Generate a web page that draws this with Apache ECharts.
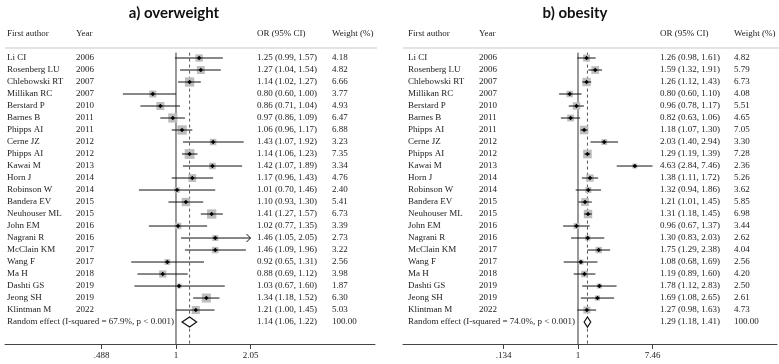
<!DOCTYPE html>
<html><head><meta charset="utf-8">
<script src="https://cdn.jsdelivr.net/npm/echarts@6/dist/echarts.min.js"></script>
<style>html,body{margin:0;padding:0;background:#fff}#c{width:779px;height:364px}</style>
</head><body><div id="c"></div>
<script>
const authors = ['Li CI','Rosenberg LU','Chlebowski RT','Millikan RC','Berstard P','Barnes B','Phipps AI','Cerne JZ','Phipps AI','Kawai M','Horn J','Robinson W','Bandera EV','Neuhouser ML','John EM','Nagrani R','McClain KM','Wang F','Ma H','Dashti GS','Jeong SH','Klintman M'];
const years = [2006,2006,2007,2007,2010,2011,2011,2012,2012,2013,2014,2014,2015,2015,2016,2016,2017,2017,2018,2019,2019,2022];

const owOR = [1.25,1.27,1.14,0.80,0.86,0.97,1.06,1.43,1.14,1.42,1.17,1.01,1.10,1.41,1.02,1.46,1.46,0.92,0.88,1.03,1.34,1.21];
const owLo = [0.99,1.04,1.02,0.60,0.71,0.86,0.96,1.07,1.06,1.07,0.96,0.70,0.93,1.27,0.77,1.05,1.09,0.65,0.69,0.67,1.18,1.00];
const owHi = [1.57,1.54,1.27,1.00,1.04,1.09,1.17,1.92,1.23,1.89,1.43,1.46,1.30,1.57,1.35,2.05,1.96,1.31,1.12,1.60,1.52,1.45];
const owW  = [4.18,4.82,6.66,3.77,4.93,6.47,6.88,3.23,7.35,3.34,4.76,2.40,5.41,6.73,3.39,2.73,3.22,2.56,3.98,1.87,6.30,5.03];
const owPooled = [1.14,1.06,1.22];
const owI2 = '67.9%';
const owTicks = [0.488,1,2.05];
const owTickLabels = ['.488','1','2.05'];

const obOR = [1.26,1.59,1.26,0.80,0.96,0.82,1.18,2.03,1.29,4.63,1.38,1.32,1.21,1.31,0.96,1.30,1.75,1.08,1.19,1.78,1.69,1.27];
const obLo = [0.98,1.32,1.12,0.60,0.78,0.63,1.07,1.40,1.19,2.84,1.11,0.94,1.01,1.18,0.67,0.83,1.29,0.68,0.89,1.12,1.08,0.98];
const obHi = [1.61,1.91,1.43,1.10,1.17,1.06,1.30,2.94,1.39,7.46,1.72,1.86,1.45,1.45,1.37,2.03,2.38,1.69,1.60,2.83,2.65,1.63];
const obW  = [4.82,5.79,6.73,4.08,5.51,4.65,7.05,3.30,7.28,2.36,5.26,3.62,5.85,6.98,3.44,2.62,4.04,2.56,4.20,2.50,2.61,4.73];
const obPooled = [1.29,1.18,1.41];
const obI2 = '74.0%';
const obTicks = [0.134,1,7.46];
const obTickLabels = ['.134','1','7.46'];

const headers = ['First author','Year','OR (95% CI)','Weight (%)'];
const titles = ['a) overweight','b) obesity'];

const SERIF = '"Liberation Serif","DejaVu Serif",serif';
const YMAX = 23.83;
const ln = Math.log;
const f2 = v => v.toFixed(2);

const panels = [
  {or: owOR, lo: owLo, hi: owHi, w: owW, pooled: owPooled, i2: owI2, ticks: owTicks, tickLabels: owTickLabels,
   grid: {left: 5, width: 370}, xmin: -1.647, xmax: 1.917, cols: [7, 76, 257, 332], box: 3.6, arrow: true, titleX: 169},
  {or: obOR, lo: obLo, hi: obHi, w: obW, pooled: obPooled, i2: obI2, ticks: obTicks, tickLabels: obTickLabels,
   grid: {left: 403, width: 374}, xmin: -4.721, xmax: 5.368, cols: [408, 479, 660, 734], box: 3.2, arrow: false, titleX: 570}
];

const option = {animation: false, title: [], grid: [], xAxis: [], yAxis: [], series: []};

panels.forEach((p, k) => {
  option.title.push({text: titles[k], left: p.titleX, top: 1, textAlign: 'center',
    textStyle: {fontFamily: 'Lato,"Open Sans",sans-serif', fontWeight: 700, fontSize: 15, color: '#111'}});
  option.grid.push({left: p.grid.left, width: p.grid.width, top: 46, height: 298});
  const tv = p.ticks.map(ln);
  option.xAxis.push({type: 'value', gridIndex: k, min: p.xmin, max: p.xmax,
    axisLine: {show: true, onZero: false, lineStyle: {color: '#444', width: 1}},
    axisTick: {show: true, customValues: tv, length: 5, lineStyle: {color: '#444'}},
    axisLabel: {show: true, customValues: tv, margin: 7, fontFamily: SERIF, fontSize: 9, color: '#222',
      formatter: v => { const i = tv.findIndex(t => Math.abs(t - v) < 1e-6); return i >= 0 ? p.tickLabels[i] : ''; }},
    splitLine: {show: false}});
  option.yAxis.push({type: 'value', gridIndex: k, inverse: true, min: -1, max: YMAX, show: false});

  // reference line at OR = 1
  option.series.push({type: 'line', xAxisIndex: k, yAxisIndex: k, symbol: 'none', silent: true,
    data: [[0, -0.45], [0, YMAX]], lineStyle: {color: '#333', width: 1}, z: 1});
  // pooled dashed line
  const lp = ln(p.pooled[0]);
  option.series.push({type: 'line', xAxisIndex: k, yAxisIndex: k, symbol: 'none', silent: true,
    data: [[lp, -0.45], [lp, YMAX]], lineStyle: {color: '#555', width: 1, type: [3, 3]}, z: 1});

  // studies
  option.series.push({type: 'custom', xAxisIndex: k, yAxisIndex: k, clip: false, z: 3,
    data: p.or.map((v, i) => [ln(v), i, ln(p.lo[i]), ln(p.hi[i]), p.w[i]]),
    renderItem: (params, api) => {
      const c = api.coord([api.value(0), api.value(1)]);
      const a = api.coord([api.value(2), api.value(1)]);
      const b = api.coord([api.value(3), api.value(1)]);
      const s = p.box * Math.sqrt(api.value(4));
      const ch = [
        {type: 'rect', shape: {x: c[0] - s / 2, y: c[1] - s / 2, width: s, height: s}, style: {fill: '#bdbdbd'}},
        {type: 'line', shape: {x1: a[0], y1: a[1], x2: b[0], y2: b[1]}, style: {stroke: '#111', lineWidth: 1}},
        {type: 'polygon', shape: {points: [[c[0] - 2.2, c[1]], [c[0], c[1] - 2.2], [c[0] + 2.2, c[1]], [c[0], c[1] + 2.2]]}, style: {fill: '#000'}}
      ];
      if (p.arrow && api.value(3) >= ln(p.ticks[p.ticks.length - 1]) - 1e-9) {
        ch.push({type: 'polyline', shape: {points: [[b[0] - 4, b[1] - 4], [b[0], b[1]], [b[0] - 4, b[1] + 4]]}, style: {stroke: '#111', lineWidth: 1, fill: null}});
      }
      return {type: 'group', children: ch};
    }});

  // pooled diamond
  option.series.push({type: 'custom', xAxisIndex: k, yAxisIndex: k, clip: false, z: 3,
    data: [[ln(p.pooled[0]), p.or.length, ln(p.pooled[1]), ln(p.pooled[2])]],
    renderItem: (params, api) => {
      const c = api.coord([api.value(0), api.value(1)]);
      const a = api.coord([api.value(2), api.value(1)]);
      const b = api.coord([api.value(3), api.value(1)]);
      return {type: 'polygon', shape: {points: [[a[0], a[1]], [c[0], c[1] - 5], [b[0], b[1]], [c[0], c[1] + 5]]},
        style: {fill: '#fff', stroke: '#111', lineWidth: 1.2}};
    }});

  // text columns
  const rows = [{r: -2, t: headers.slice()}];
  p.or.forEach((v, i) => rows.push({r: i, t: [authors[i], String(years[i]), f2(v) + ' (' + f2(p.lo[i]) + ', ' + f2(p.hi[i]) + ')', f2(p.w[i])]}));
  rows.push({r: p.or.length, t: ['Random effect (I-squared = ' + p.i2 + ', p < 0.001)', '', f2(p.pooled[0]) + ' (' + f2(p.pooled[1]) + ', ' + f2(p.pooled[2]) + ')', '100.00']});
  option.series.push({type: 'custom', xAxisIndex: k, yAxisIndex: k, clip: false, z: 4, silent: true,
    data: rows.map(d => [0, d.r]),
    renderItem: (params, api) => {
      const y = api.coord([0, api.value(1)])[1];
      const row = rows[params.dataIndex];
      const ch = row.t.map((t, j) => ({type: 'text', x: p.cols[j], y: y,
        style: {text: t, fill: '#222', font: '9px ' + SERIF, textVerticalAlign: 'middle', verticalAlign: 'middle'}}));
      if (row.r === -2) {
        const cs = params.coordSys;
        ch.push({type: 'line', shape: {x1: cs.x, y1: y + 14, x2: cs.x + cs.width + 2, y2: y + 14}, style: {stroke: '#c8c8c8', lineWidth: 1}});
      }
      return {type: 'group', children: ch};
    }});
});

const chart = echarts.init(document.getElementById('c'), null, {renderer: 'canvas'});
chart.setOption(option);
</script></body></html>
